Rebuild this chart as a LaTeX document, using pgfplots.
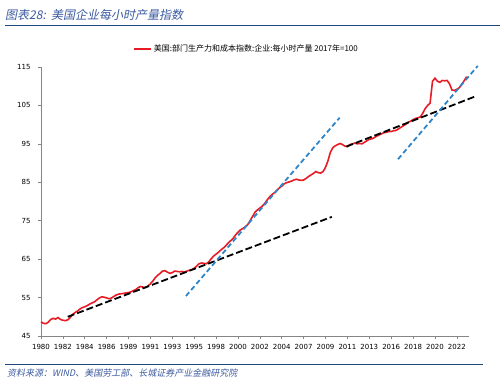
\documentclass[border=0pt]{standalone}
\usepackage{pgfplots}
\usepackage{pgfplotstable}
\pgfplotsset{compat=1.18}
\usepackage{fontspec}
\newfontfamily\cjk{Noto Sans CJK SC}
\newfontfamily\cjkit[FakeSlant=0.2]{Noto Sans CJK SC}
\newfontfamily\tickfont{DejaVu Sans}
\definecolor{hdrblue}{RGB}{31,73,125}
\definecolor{ttlblue}{RGB}{60,90,160}
\definecolor{redline}{RGB}{232,28,36}
\definecolor{trendblue}{RGB}{46,134,200}
\definecolor{axgray}{RGB}{134,134,134}

\pgfplotstableread{
x y
1980.0 48.7
1980.25 48.3
1980.5 48.2
1980.75 48.6
1981.0 49.3
1981.25 49.6
1981.5 49.4
1981.75 49.8
1982.0 49.3
1982.25 49.1
1982.5 49.0
1982.75 49.2
1983.0 49.8
1983.25 50.6
1983.5 51.1
1983.75 51.5
1984.0 52.0
1984.25 52.4
1984.5 52.6
1984.75 52.9
1985.0 53.3
1985.25 53.6
1985.5 53.9
1985.75 54.4
1986.0 54.9
1986.25 55.2
1986.5 55.1
1986.75 54.9
1987.0 54.7
1987.25 54.9
1987.5 55.3
1987.75 55.7
1988.0 55.9
1988.25 56.0
1988.5 56.1
1988.75 56.2
1989.0 56.3
1989.25 56.5
1989.5 56.8
1989.75 57.1
1990.0 57.6
1990.25 57.9
1990.5 57.7
1990.75 57.6
1991.0 58.0
1991.25 58.6
1991.5 59.3
1991.75 60.2
1992.0 60.8
1992.25 61.3
1992.5 61.9
1992.75 62.0
1993.0 61.6
1993.25 61.3
1993.5 61.5
1993.75 61.9
1994.0 61.8
1994.25 61.7
1994.5 61.8
1994.75 61.6
1995.0 61.9
1995.25 62.1
1995.5 62.3
1995.75 62.6
1996.0 63.2
1996.25 63.8
1996.5 64.0
1996.75 63.9
1997.0 63.8
1997.25 64.3
1997.5 65.1
1997.75 65.8
1998.0 66.3
1998.25 66.8
1998.5 67.4
1998.75 67.9
1999.0 68.5
1999.25 69.2
1999.5 69.8
1999.75 70.4
2000.0 71.3
2000.25 72.0
2000.5 72.6
2000.75 73.0
2001.0 73.4
2001.25 74.0
2001.5 75.0
2001.75 76.1
2002.0 77.2
2002.25 77.8
2002.5 78.3
2002.75 78.8
2003.0 79.5
2003.25 80.4
2003.5 81.2
2003.75 81.8
2004.0 82.3
2004.25 82.9
2004.5 83.5
2004.75 84.0
2005.0 84.6
2005.25 84.9
2005.5 85.1
2005.75 85.3
2006.0 85.6
2006.25 85.8
2006.5 85.6
2006.75 85.5
2007.0 85.6
2007.25 86.0
2007.5 86.5
2007.75 86.9
2008.0 87.3
2008.25 87.8
2008.5 87.5
2008.75 87.4
2009.0 87.8
2009.25 88.9
2009.5 90.6
2009.75 92.8
2010.0 94.0
2010.25 94.5
2010.5 94.8
2010.75 95.1
2011.0 94.8
2011.25 94.4
2011.5 94.3
2011.75 94.8
2012.0 95.0
2012.25 95.2
2012.5 95.0
2012.75 95.1
2013.0 95.0
2013.25 95.4
2013.5 95.8
2013.75 96.2
2014.0 96.3
2014.25 96.6
2014.5 97.0
2014.75 97.3
2015.0 97.6
2015.25 97.9
2015.5 98.0
2015.75 98.2
2016.0 98.2
2016.25 98.4
2016.5 98.5
2016.75 98.9
2017.0 99.3
2017.25 99.7
2017.5 100.1
2017.75 100.6
2018.0 100.9
2018.25 101.3
2018.5 101.6
2018.75 101.8
2019.0 102.0
2019.25 103.0
2019.5 104.2
2019.75 105.0
2020.0 105.6
2020.25 111.3
2020.5 112.1
2020.75 111.3
2021.0 111.0
2021.25 111.5
2021.5 111.4
2021.75 111.5
2022.0 110.6
2022.25 109.0
2022.5 108.9
2022.75 109.2
2023.0 109.6
2023.25 110.5
2023.5 111.4
2023.75 112.5
}\prodtable

\begin{document}
\begin{tikzpicture}
\useasboundingbox (0pt,0pt) rectangle (500pt,382pt);
\node[anchor=west, inner sep=0, text=ttlblue, font=\cjkit\fontsize{12}{12}\selectfont] at (5pt,367.5pt) {图表28:\ \ 美国企业每小时产量指数};
\draw[hdrblue, line width=1pt] (5pt,356pt) -- (500pt,356pt);
\draw[hdrblue, line width=1pt] (5pt,17pt) -- (483pt,17pt);
\node[anchor=west, inner sep=0, text=ttlblue, font=\cjkit\fontsize{9}{9}\selectfont] at (7pt,9pt) {资料来源：WIND、美国劳工部、长城证券产业金融研究院};
\begin{axis}[
  width=428pt, height=269pt, scale only axis,
  at={(41pt,46pt)}, anchor=south west,
  xmin=1980, xmax=2024, ymin=45, ymax=115,
  clip=false,
  xtick={1980,1982.25,1984.5,1986.75,1989,1991.25,1993.5,1995.75,1998,2000.25,2002.5,2004.75,2007,2009.25,2011.5,2013.75,2016,2018.25,2020.5,2022.75},
  xticklabels={1980,1982,1984,1986,1989,1991,1993,1995,1998,2000,2002,2004,2007,2009,2011,2013,2016,2018,2020,2022},
  ytick={45,55,65,75,85,95,105,115},
  axis x line*=bottom, axis y line*=left,
  axis line style={axgray, -, line width=0.6pt},
  tick style={axgray, line width=0.6pt},
  tick align=outside, major tick length=3pt,
  tick label style={font=\tickfont\fontsize{7}{8}\selectfont, text=black},
  yticklabel style={xshift=-4pt},
  xticklabel style={yshift=-1.5pt},
  /pgf/number format/assume math mode=true,
  legend style={draw=none, fill=none, at={(0.215,1.067)}, anchor=west,
    font=\cjk\fontsize{8}{8}\selectfont, inner sep=0pt},
  legend cell align=left,
]
\addplot[redline, line width=1.6pt] table[x=x,y=y] {\prodtable};
\addlegendentry{美国:部门生产力和成本指数:企业:每小时产量 2017年=100}
\addplot[black, line width=1.8pt, dash pattern=on 7pt off 3pt, forget plot] coordinates {(1982.75,50.0) (2009.9,76.0)};
\addplot[black, line width=1.8pt, dash pattern=on 7pt off 3pt, forget plot] coordinates {(2011.4,94.3) (2024.6,107.3)};
\addplot[trendblue, line width=1.8pt, dash pattern=on 5pt off 3pt, forget plot] coordinates {(1994.9,55.4) (2010.7,101.8)};
\addplot[trendblue, line width=1.8pt, dash pattern=on 5pt off 3pt, forget plot] coordinates {(2016.7,91.0) (2024.9,115.3)};
\end{axis}
\end{tikzpicture}
\end{document}
